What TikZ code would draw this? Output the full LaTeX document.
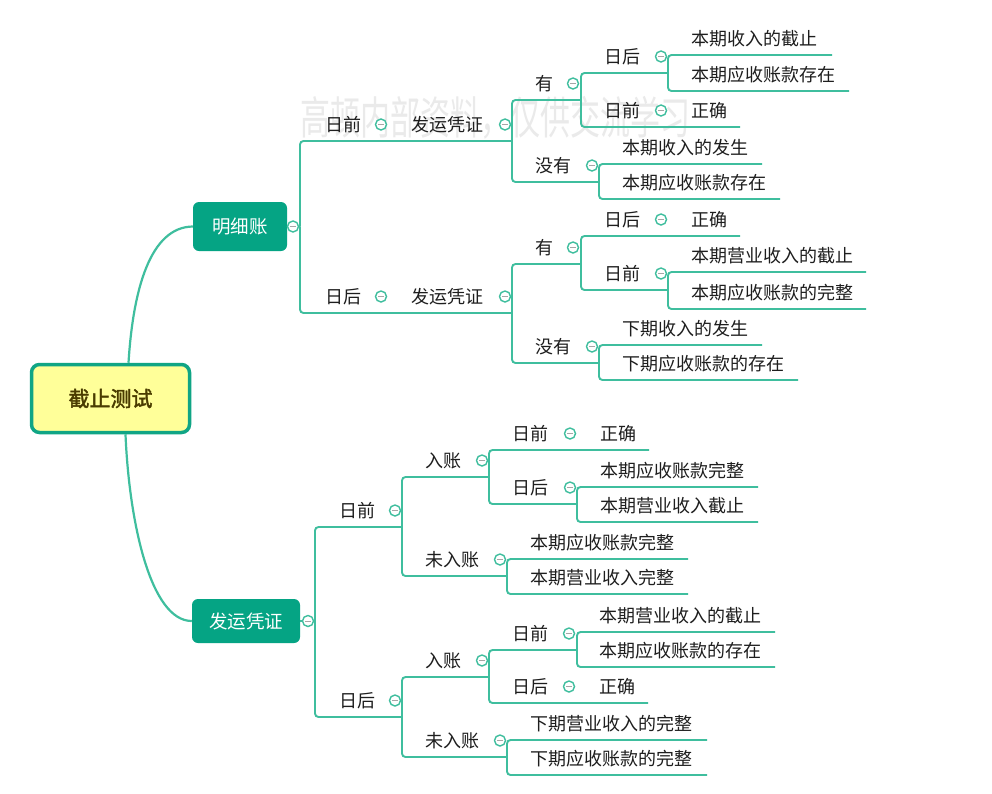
\documentclass[tikz,border=0pt]{standalone}
\usepackage{fontspec}
\setmainfont{Noto Sans CJK SC}
\newfontfamily\cjkbold[FakeBold=2]{Noto Sans CJK SC}
\definecolor{lineC}{HTML}{3FBE9E}
\definecolor{boxC}{HTML}{05A484}
\definecolor{rootB}{HTML}{10A585}
\definecolor{rootF}{HTML}{FFFF99}
\definecolor{rootT}{HTML}{4A3C00}
\definecolor{txtC}{HTML}{1E1E1E}
\definecolor{wmC}{HTML}{EAEAEA}
\tikzset{
  conn/.style={draw=lineC, line width=1.9pt, rounded corners=3.5pt},
  curveconn/.style={draw=lineC, line width=2.2pt},
  lbl/.style={anchor=west, inner sep=0pt, font=\fontsize{18}{20}\selectfont, text=txtC},
  fold/.style={circle, draw=lineC, fill=white, line width=1.4pt, minimum size=11pt, inner sep=0pt,
    path picture={\draw[gray!70, line width=1pt] ([xshift=-2.8pt]path picture bounding box.center) -- ([xshift=2.8pt]path picture bounding box.center);}},
  subbox/.style={draw=none, fill=boxC, rounded corners=6pt, text=white, inner sep=0pt,
    font=\fontsize{18.5}{20}\selectfont},
}
\begin{document}
\begin{tikzpicture}[x=1pt, y=-1pt]
\path[use as bounding box, fill=white] (0,0) rectangle (992,793);

% watermark
\node[anchor=center, inner sep=0pt, text=wmC, font=\fontsize{30}{32}\selectfont, yscale=1.5] (wm) at (495,118) {高顿内部资料，仅供交流学习};

% main boxes
\node[draw=rootB, fill=rootF, line width=3.5pt, rounded corners=8pt, minimum width=158pt, minimum height=68pt, inner sep=0pt, text=rootT, font=\cjkbold\fontsize{21}{24}\selectfont] (root) at (110.5,398.5) {截止测试};
\node[subbox, minimum width=94pt, minimum height=49pt] (M) at (240,226.5) {明细账};
\node[subbox, minimum width=108pt, minimum height=44pt] (V) at (246,621) {发运凭证};

\draw[curveconn] ([xshift=18pt]root.north) .. controls (133,290) and (150,227) .. (M.west);
\draw[curveconn] ([xshift=15pt]root.south) .. controls (129,520) and (150,621) .. (V.west);

% junction coordinates (ends of underlines)
\coordinate (JM) at (300,226.5);
\coordinate (A) at (512,141);
\coordinate (B) at (581,100);
\coordinate (C) at (668,73);
\coordinate (C1) at (832,55);
\coordinate (C2) at (849,91);
\coordinate (D) at (740,127);
\coordinate (E) at (599,182);
\coordinate (E1) at (762,164);
\coordinate (E2) at (780,199);
\coordinate (F) at (512,313);
\coordinate (G) at (581,264);
\coordinate (G1) at (740,236);
\coordinate (H) at (668,290);
\coordinate (H1) at (866,272);
\coordinate (H2) at (866,309);
\coordinate (I) at (599,363);
\coordinate (I1) at (762,345);
\coordinate (I2) at (798,380);

\coordinate (JV) at (315,621);
\coordinate (P) at (402,527);
\coordinate (Q) at (489,477);
\coordinate (Q1) at (649,450);
\coordinate (R) at (577,504);
\coordinate (R1) at (758,487);
\coordinate (R2) at (758,522);
\coordinate (S) at (507,576);
\coordinate (S1) at (688,559);
\coordinate (S2) at (688,594);
\coordinate (T) at (402,717);
\coordinate (U) at (489,677);
\coordinate (U1) at (577,650);
\coordinate (U11) at (775,632);
\coordinate (U12) at (775,667);
\coordinate (U2) at (648,703);
\coordinate (W) at (507,757);
\coordinate (W1) at (707,740);
\coordinate (W2) at (707,775);

% connectors upper
\draw[conn] (M.east) -- (JM);
\draw[conn] (JM) |- (A);
\draw[conn] (A) |- (B);
\draw[conn] (B) |- (C);
\draw[conn] (C) |- (C1);
\draw[conn] (C) |- (C2);
\draw[conn] (B) |- (D);
\draw[conn] (A) |- (E);
\draw[conn] (E) |- (E1);
\draw[conn] (E) |- (E2);
\draw[conn] (JM) |- (F);
\draw[conn] (F) |- (G);
\draw[conn] (G) |- (G1);
\draw[conn] (G) |- (H);
\draw[conn] (H) |- (H1);
\draw[conn] (H) |- (H2);
\draw[conn] (F) |- (I);
\draw[conn] (I) |- (I1);
\draw[conn] (I) |- (I2);

% connectors lower
\draw[conn] (V.east) -- (JV);
\draw[conn] (JV) |- (P);
\draw[conn] (P) |- (Q);
\draw[conn] (Q) |- (Q1);
\draw[conn] (Q) |- (R);
\draw[conn] (R) |- (R1);
\draw[conn] (R) |- (R2);
\draw[conn] (P) |- (S);
\draw[conn] (S) |- (S1);
\draw[conn] (S) |- (S2);
\draw[conn] (JV) |- (T);
\draw[conn] (T) |- (U);
\draw[conn] (U) |- (U1);
\draw[conn] (U1) |- (U11);
\draw[conn] (U1) |- (U12);
\draw[conn] (U) |- (U2);
\draw[conn] (T) |- (W);
\draw[conn] (W) |- (W1);
\draw[conn] (W) |- (W2);

% fold circles
\node[fold] (fM) at (293,226.5) {};
\node[fold] (fV) at (308,621) {};
\foreach \n/\x/\y in {fA1/381/124.5, fA2/505/124.5, fB/573/83.5, fC/661/56.5, fD/661/110.5, fE/592/165.5,
  fF1/381/296.5, fF2/505/296.5, fG/573/247.5, fG1/661/219.5, fH/661/273.5, fI/592/346.5,
  fP/395/510.5, fQ/482/460.5, fQ1/570/433.5, fR/570/487.5, fS/500/559.5,
  fT/395/700.5, fU/482/660.5, fU1/569/633.5, fU2/569/686.5, fW/500/740.5}
  \node[fold] (\n) at (\x,\y) {};

% labels upper
\node[lbl] (tA) at (325,124.5) {日前};
\node[lbl] (tA2) at (411,124.5) {发运凭证};
\node[lbl] (tB) at (535,83.5) {有};
\node[lbl] (tC) at (604,56.5) {日后};
\node[lbl] (tC1) at (691,38.5) {本期收入的截止};
\node[lbl] (tC2) at (691,74.5) {本期应收账款存在};
\node[lbl] (tD) at (604,110.5) {日前};
\node[lbl] (tD2) at (691,110.5) {正确};
\node[lbl] (tE) at (535,165.5) {没有};
\node[lbl] (tE1) at (622,147.5) {本期收入的发生};
\node[lbl] (tE2) at (622,182.5) {本期应收账款存在};
\node[lbl] (tF) at (325,296.5) {日后};
\node[lbl] (tF2) at (411,296.5) {发运凭证};
\node[lbl] (tG) at (535,247.5) {有};
\node[lbl] (tG1) at (604,219.5) {日后};
\node[lbl] (tG2) at (691,219.5) {正确};
\node[lbl] (tH) at (604,273.5) {日前};
\node[lbl] (tH1) at (691,255.5) {本期营业收入的截止};
\node[lbl] (tH2) at (691,292.5) {本期应收账款的完整};
\node[lbl] (tI) at (535,346.5) {没有};
\node[lbl] (tI1) at (622,328.5) {下期收入的发生};
\node[lbl] (tI2) at (622,363.5) {下期应收账款的存在};

% labels lower
\node[lbl] (tP) at (339,510.5) {日前};
\node[lbl] (tQ) at (425,460.5) {入账};
\node[lbl] (tQ1) at (512,433.5) {日前};
\node[lbl] (tQ2) at (600,433.5) {正确};
\node[lbl] (tR) at (512,487.5) {日后};
\node[lbl] (tR1) at (600,470.5) {本期应收账款完整};
\node[lbl] (tR2) at (600,505.5) {本期营业收入截止};
\node[lbl] (tS) at (425,559.5) {未入账};
\node[lbl] (tS1) at (530,542.5) {本期应收账款完整};
\node[lbl] (tS2) at (530,577.5) {本期营业收入完整};
\node[lbl] (tT) at (339,700.5) {日后};
\node[lbl] (tU) at (425,660.5) {入账};
\node[lbl] (tU1) at (512,633.5) {日前};
\node[lbl] (tU11) at (599,615.5) {本期营业收入的截止};
\node[lbl] (tU12) at (599,650.5) {本期应收账款的存在};
\node[lbl] (tU2) at (512,686.5) {日后};
\node[lbl] (tU22) at (599,686.5) {正确};
\node[lbl] (tW) at (425,740.5) {未入账};
\node[lbl] (tW1) at (530,723.5) {下期营业收入的完整};
\node[lbl] (tW2) at (530,758.5) {下期应收账款的完整};
\end{tikzpicture}
\end{document}
